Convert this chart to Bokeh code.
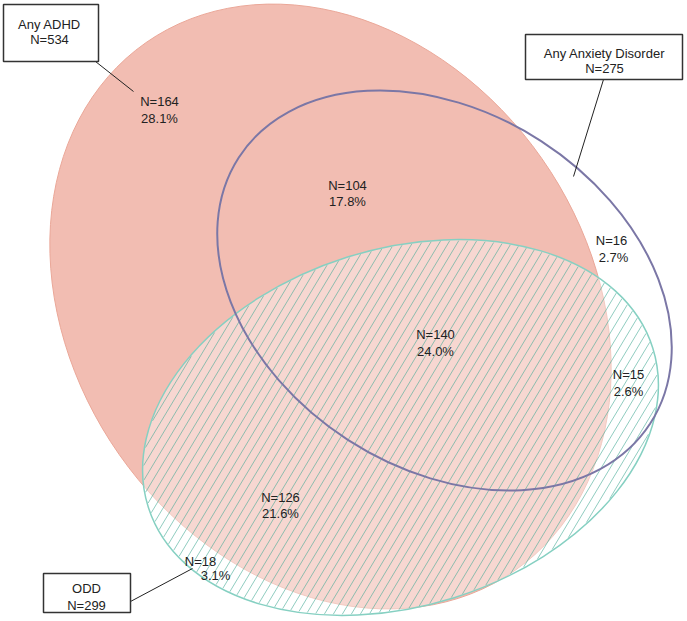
import numpy as np
from bokeh.plotting import figure
from bokeh.models import Range1d, ColumnDataSource
from bokeh.core.properties import value
from bokeh.embed import file_html
from bokeh.resources import INLINE

# ---------------- data ----------------
set_names = ["Any ADHD", "Any Anxiety Disorder", "ODD"]
set_totals = [534, 275, 299]
region_counts = [164, 104, 140, 16, 15, 126, 18]
region_pcts = [28.1, 17.8, 24.0, 2.7, 2.6, 21.6, 3.1]

# ---------------- layout (page pixels: x right, y down) ----------------
W, H = 687, 621
ell_cx = [330, 444, 400]
ell_cy = [306, 290, 427]
ell_w = [644, 490, 529]
ell_h = [516, 356, 357]
ell_ang = [-55.0, -32.9, 17.5]
hatch_angle = 59.0
hatch_step = 9.0

lab1_x = [159, 347, 435, 611, 628, 280, 200]
lab1_y = [101, 185, 334, 240, 374, 497, 561]
lab2_x = [159, 347, 435, 613, 628, 280, 215]
lab2_y = [118, 201, 351, 257, 391, 513, 575]

box_l = [3, 525, 43]
box_r = [98, 682, 130]
box_t = [4, 34, 573]
box_b = [61, 79, 612]
box_tx = [49, 604, 86]
box_ty1 = [23.5, 52.5, 588]
box_ty2 = [39, 68, 605]

con_x0 = [95, 603, 130]
con_y0 = [61, 79, 601]
con_x1 = [133, 573, 192]
con_y1 = [91, 176, 568]

FONT = value("Liberation Sans")
fy = lambda ys: [H - y for y in ys]


def hatch_chords(cx, cy, w, h, ang_deg, phi_deg, step):
    a, b = w / 2.0, h / 2.0
    th, ph = np.radians(ang_deg), np.radians(phi_deg)
    d = np.array([np.cos(ph), np.sin(ph)])
    R = np.array([[np.cos(th), np.sin(th)], [-np.sin(th), np.cos(th)]])
    qd = R @ d
    x0s, y0s, x1s, y1s = [], [], [], []
    ext = a + b
    for s in np.arange(-ext, ext, step):
        p0 = np.array([s, 0.0])
        q0 = R @ p0
        A = (qd[0] / a) ** 2 + (qd[1] / b) ** 2
        B = 2 * (q0[0] * qd[0] / a ** 2 + q0[1] * qd[1] / b ** 2)
        C = (q0[0] / a) ** 2 + (q0[1] / b) ** 2 - 1
        disc = B * B - 4 * A * C
        if disc <= 0:
            continue
        t1 = (-B - np.sqrt(disc)) / (2 * A)
        t2 = (-B + np.sqrt(disc)) / (2 * A)
        e1 = np.array([cx, cy]) + p0 + t1 * d
        e2 = np.array([cx, cy]) + p0 + t2 * d
        x0s.append(e1[0]); y0s.append(e1[1]); x1s.append(e2[0]); y1s.append(e2[1])
    return x0s, y0s, x1s, y1s


p = figure(width=W, height=H, x_range=Range1d(0, W), y_range=Range1d(0, H),
           output_backend="svg", toolbar_location=None, min_border=0)
p.axis.visible = False
p.grid.visible = False
p.outline_line_color = None
p.background_fill_color = "white"
p.border_fill_color = "white"

# ADHD
p.ellipse(x=ell_cx[0], y=H - ell_cy[0], width=ell_w[0], height=ell_h[0],
          angle=np.radians(ell_ang[0]), fill_color="#F2BDB2", line_color="#EAA798", line_width=1)
# ODD fill
p.ellipse(x=ell_cx[2], y=H - ell_cy[2], width=ell_w[2], height=ell_h[2],
          angle=np.radians(ell_ang[2]), fill_color="white", fill_alpha=0.4, line_color=None)
# ODD hatch
hx0, hy0, hx1, hy1 = hatch_chords(ell_cx[2], H - ell_cy[2], ell_w[2] - 2, ell_h[2] - 2,
                                  ell_ang[2], hatch_angle, hatch_step)
p.segment(x0=hx0, y0=hy0, x1=hx1, y1=hy1, line_color="#46AA96", line_alpha=0.6, line_width=1)
# ODD outline
p.ellipse(x=ell_cx[2], y=H - ell_cy[2], width=ell_w[2], height=ell_h[2],
          angle=np.radians(ell_ang[2]), fill_color=None, line_color="#86D0C2", line_width=1.5)
# Anxiety
p.ellipse(x=ell_cx[1], y=H - ell_cy[1], width=ell_w[1], height=ell_h[1],
          angle=np.radians(ell_ang[1]), fill_color=None, line_color="#7B77A6", line_width=2)

# region labels
src1 = ColumnDataSource(dict(x=lab1_x, y=fy(lab1_y), t=[f"N={n}" for n in region_counts]))
src2 = ColumnDataSource(dict(x=lab2_x, y=fy(lab2_y), t=[f"{v:.1f}%" for v in region_pcts]))
for s in (src1, src2):
    p.text(x="x", y="y", text="t", source=s, text_align="center", text_baseline="middle",
           text_font=FONT, text_font_size="13px", text_color="#222222")

# connectors
p.segment(x0=con_x0, y0=fy(con_y0), x1=con_x1, y1=fy(con_y1), line_color="#222222", line_width=1)

# set boxes
p.quad(left=box_l, right=box_r, top=fy(box_t), bottom=fy(box_b),
       fill_color="white", line_color="#333333", line_width=1.5)
src3 = ColumnDataSource(dict(x=box_tx, y=fy(box_ty1), t=set_names))
src4 = ColumnDataSource(dict(x=box_tx, y=fy(box_ty2), t=[f"N={n}" for n in set_totals]))
for s in (src3, src4):
    p.text(x="x", y="y", text="t", source=s, text_align="center", text_baseline="middle",
           text_font=FONT, text_font_size="13px", text_color="#222222")

open("out.html", "w").write(file_html(p, INLINE))
